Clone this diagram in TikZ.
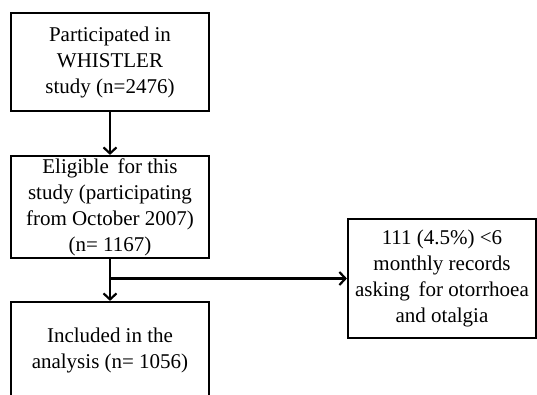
\documentclass[tikz,border=0pt]{standalone}
\usepackage{fontspec}
\setmainfont{Liberation Serif}
\usetikzlibrary{arrows.meta}
\begin{document}
\begin{tikzpicture}[x=1pt,y=-1pt,
  box/.style={draw=black, line width=2.2pt, align=center, inner sep=0pt,
    font=\fontsize{21}{26}\selectfont},
  arr/.style={line width=2.2pt, -{Straight Barb[length=6pt,width=13pt,line width=2.2pt]}}]
\useasboundingbox (0,0) rectangle (537,395);
\clip (0,0) rectangle (537,395);
\fill[white] (0,0) rectangle (537,395);
\node[box, minimum width=198pt, minimum height=98pt] (b1) at (110,62)
  {Participated in\\WHISTLER\\study (n=2476)};
\node[box, minimum width=198pt, minimum height=102pt] (b2) at (110,207)
  {Eligible\, for this\\study (participating\\from October 2007)\\(n= 1167)};
\node[box, minimum width=198pt, minimum height=118pt] (b3) at (110,361)
  {Included in the\\analysis (n= 1056)\\[0pt]~};
\node[box, minimum width=188pt, minimum height=119pt] (r) at (442,278.5)
  {111 (4.5\%) <6\\monthly records\\asking\, for otorrhoea\\and otalgia};
\draw[arr] (b1.south) -- (b2.north);
\draw[arr] (b2.south) -- (b3.north);
\draw[arr] (b2.south |- r.west) -- (r.west);
\end{tikzpicture}
\end{document}
